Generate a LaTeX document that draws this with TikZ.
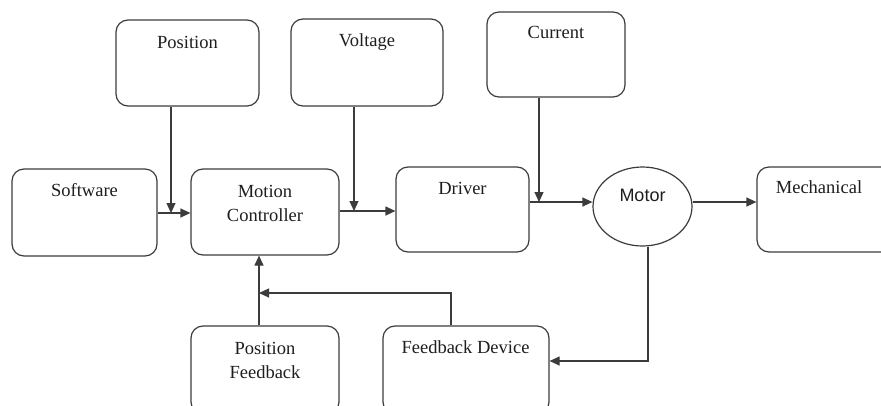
\documentclass[tikz,border=0pt]{standalone}
\usepackage{fontspec}
\setmainfont{Liberation Serif}
\newfontfamily\arialf{Liberation Sans}
\usetikzlibrary{arrows.meta,shapes.geometric,calc}
\definecolor{linec}{HTML}{3C3C3C}
\definecolor{textc}{HTML}{1E1E1E}
\tikzset{
  blk/.style={draw=linec, line width=1.2pt, rounded corners=12pt, rectangle, inner sep=0pt},
  oval/.style={draw=linec, line width=1.2pt, ellipse, inner sep=0pt},
  txt/.style={text=textc, inner sep=0pt, anchor=base, font=\fontsize{18.5}{24}\selectfont},
  link/.style={draw=linec, line width=1.2pt},
  arr/.style={link, -{Triangle[length=10pt,width=9pt]}}
}
\begin{document}
\begin{tikzpicture}[x=1pt,y=-1pt]
\useasboundingbox (0,0) rectangle (881,405);
\fill[white] (0,0) rectangle (881,405);
\clip (0,0) rectangle (881,405);

% boxes
\node[blk, minimum width=143pt, minimum height=86pt] (pos) at (187.5,63) {};
\node[blk, minimum width=152pt, minimum height=87pt] (volt) at (367,62.5) {};
\node[blk, minimum width=138pt, minimum height=85pt] (cur) at (556,54.5) {};
\node[blk, minimum width=145pt, minimum height=87pt] (soft) at (84.5,212.5) {};
\node[blk, minimum width=148pt, minimum height=86pt] (mc) at (265,212) {};
\node[blk, minimum width=133pt, minimum height=85pt] (drv) at (462.5,209.5) {};
\node[oval, minimum width=99pt, minimum height=79pt] (motor) at (642.5,206.5) {};
\node[blk, minimum width=146pt, minimum height=85pt] (mech) at (830,209.5) {};
\node[blk, minimum width=148pt, minimum height=88pt] (pfb) at (265,370) {};
\node[blk, minimum width=166pt, minimum height=88pt] (fbd) at (466,370) {};

% texts
\node[txt] (posT) at (187.5,48) {Position};
\node[txt] (voltT) at (367,46) {Voltage};
\node[txt] (curT) at (556,38) {Current};
\node[txt] (softT) at (84.5,196) {Software};
\node[txt] (mcT1) at (265,197) {Motion};
\node[txt] (mcT2) at (265,221) {Controller};
\node[txt] (drvT) at (462.5,194) {Driver};
\node[txt, font=\arialf\fontsize{18}{22}\selectfont] (motorT) at (642.5,201) {Motor};
\node[txt] (mechT) at (819,193) {Mechanical};
\node[txt] (pfbT1) at (265,354) {Position};
\node[txt] (pfbT2) at (265,378) {Feedback};
\node[txt] (fbdT) at (465.5,353) {Feedback Device};

% junction coordinates
\coordinate (j1) at (171,213);
\coordinate (j2) at (354,211);
\coordinate (j3) at (539,202);
\coordinate (j4) at (648,361);
\coordinate (j5) at (451,293);
\coordinate (j6) at (259,293);

% connectors
\draw[arr] (soft.east |- j1) -- (mc.west |- j1);
\draw[arr] (pos.south -| j1) -- (j1);
\draw[arr] (mc.east |- j2) -- (drv.west |- j2);
\draw[arr] (volt.south -| j2) -- (j2);
\draw[arr] (drv.east |- j3) -- (motor.west |- j3);
\draw[arr] (cur.south -| j3) -- (j3);
\draw[arr] (motor.east |- j3) -- (mech.west |- j3);
\draw[arr] (motor.south -| j4) -- (j4) -- (fbd.east |- j4);
\draw[arr] (fbd.north -| j5) -- (j5) -- (j6);
\draw[arr] (pfb.north -| j6) -- (mc.south -| j6);
\end{tikzpicture}
\end{document}
